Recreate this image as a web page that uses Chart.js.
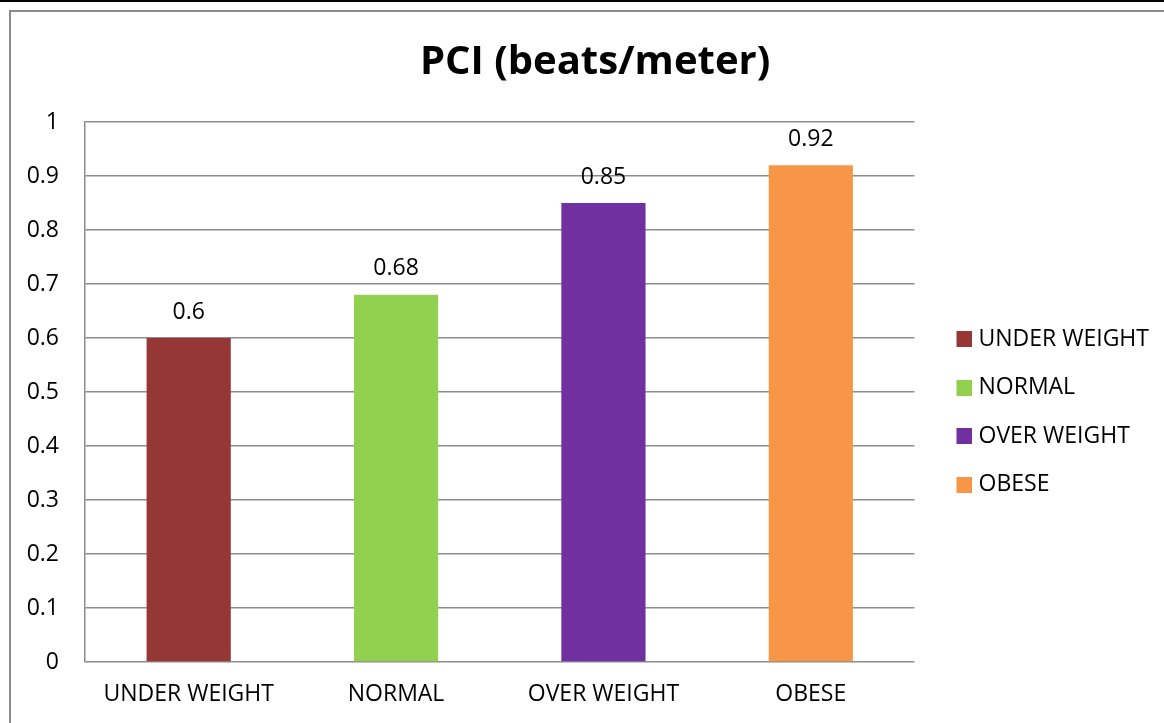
<!DOCTYPE html>
<html>
<head>
<meta charset="utf-8">
<script src="https://cdn.jsdelivr.net/npm/chart.js@4"></script>
<style>
  html, body { margin: 0; padding: 0; background: #fff; }
  #wrap { position: relative; width: 1164px; height: 723px; overflow: hidden; }
  canvas { position: absolute; left: 0; top: 0; }
  #topbar { position: absolute; left: 0; top: 0; width: 1164px; height: 2px; background: #000; }
  #frame { position: absolute; left: 9px; top: 10px; width: 1200px; height: 800px;
           border-left: 2px solid #8c8c8c; border-top: 2px solid #8c8c8c; pointer-events: none; }
</style>
</head>
<body>
<div id="wrap">
  <canvas id="c" width="1164" height="723"></canvas>
  <div id="topbar"></div>
  <div id="frame"></div>
</div>
<script>
const categories = ["UNDER WEIGHT", "NORMAL", "OVER WEIGHT", "OBESE"];
const pciValues = [0.6, 0.68, 0.85, 0.92];
const barColors = ["#953735", "#92D050", "#7030A0", "#F79646"];
const yTickValues = [0, 0.1, 0.2, 0.3, 0.4, 0.5, 0.6, 0.7, 0.8, 0.9, 1];
const chartTitle = "PCI (beats/meter)";

const FONT = "'Open Sans', sans-serif";
const TXT = 23;

// legend marker: square on the right of a transparent strip (keeps the gap from the plot)
function makeMarker(color) {
  const cv = document.createElement('canvas');
  cv.width = 38; cv.height = 16;
  const g = cv.getContext('2d');
  g.fillStyle = color;
  g.fillRect(22, 0, 16, 16);
  return cv;
}
const markers = barColors.map(makeMarker);

const valueLabels = {
  id: 'valueLabels',
  afterDatasetsDraw(chart) {
    const ctx = chart.ctx;
    const meta = chart.getDatasetMeta(0);
    ctx.save();
    ctx.font = TXT + "px " + FONT;
    ctx.fillStyle = "#000";
    ctx.textAlign = "center";
    ctx.textBaseline = "middle";
    meta.data.forEach((el, i) => {
      ctx.fillText(String(chart.data.datasets[0].data[i]), el.x, el.y - 26);
    });
    ctx.restore();
  }
};

new Chart(document.getElementById('c'), {
  type: 'bar',
  data: {
    labels: categories,
    datasets: [{
      data: pciValues,
      backgroundColor: barColors,
      borderWidth: 0,
      categoryPercentage: 0.406,
      barPercentage: 1.0
    }]
  },
  options: {
    responsive: false,
    animation: false,
    devicePixelRatio: 1,
    layout: { padding: { left: 0, right: 5, top: 0, bottom: 0 } },
    plugins: {
      title: {
        display: true,
        text: "\u00a0\u00a0\u00a0" + chartTitle,
        color: "#000",
        font: { family: FONT, size: 40, weight: 'bold', lineHeight: 1.2 },
        padding: { top: 39, bottom: 35 }
      },
      legend: {
        display: true,
        position: 'right',
        title: { display: true, text: '', font: { size: 10, lineHeight: 1 }, padding: { top: 91, bottom: 0 } },
        labels: {
          color: "#000",
          font: { family: FONT, size: TXT },
          usePointStyle: true,
          pointStyleWidth: 27,
          boxHeight: 16,
          padding: 25.5,
          generateLabels(chart) {
            return categories.map((c, i) => ({
              text: c,
              fillStyle: barColors[i],
              strokeStyle: barColors[i],
              fontColor: "#000",
              pointStyle: markers[i],
              lineWidth: 0,
              hidden: false,
              index: i
            }));
          }
        },
        onClick: null
      },
      tooltip: { enabled: false }
    },
    scales: {
      x: {
        grid: { display: false, drawTicks: false },
        border: { display: false },
        ticks: { color: "#000", font: { family: FONT, size: TXT }, padding: 19, maxRotation: 0 },
        afterFit(scale) { scale.height = 61; }
      },
      y: {
        min: 0,
        max: 1,
        afterBuildTicks(scale) { scale.ticks = yTickValues.map(v => ({ value: v })); },
        grid: { color: "#8c8c8c", lineWidth: 1.5, drawTicks: false },
        border: { display: true, color: "#8c8c8c", width: 1.5 },
        ticks: {
          color: "#000",
          font: { family: FONT, size: TXT },
          padding: 26,
          callback: v => String(Math.round(v * 10) / 10)
        },
        afterFit(scale) { scale.width = 85; }
      }
    }
  },
  plugins: [valueLabels]
});
</script>
</body>
</html>
